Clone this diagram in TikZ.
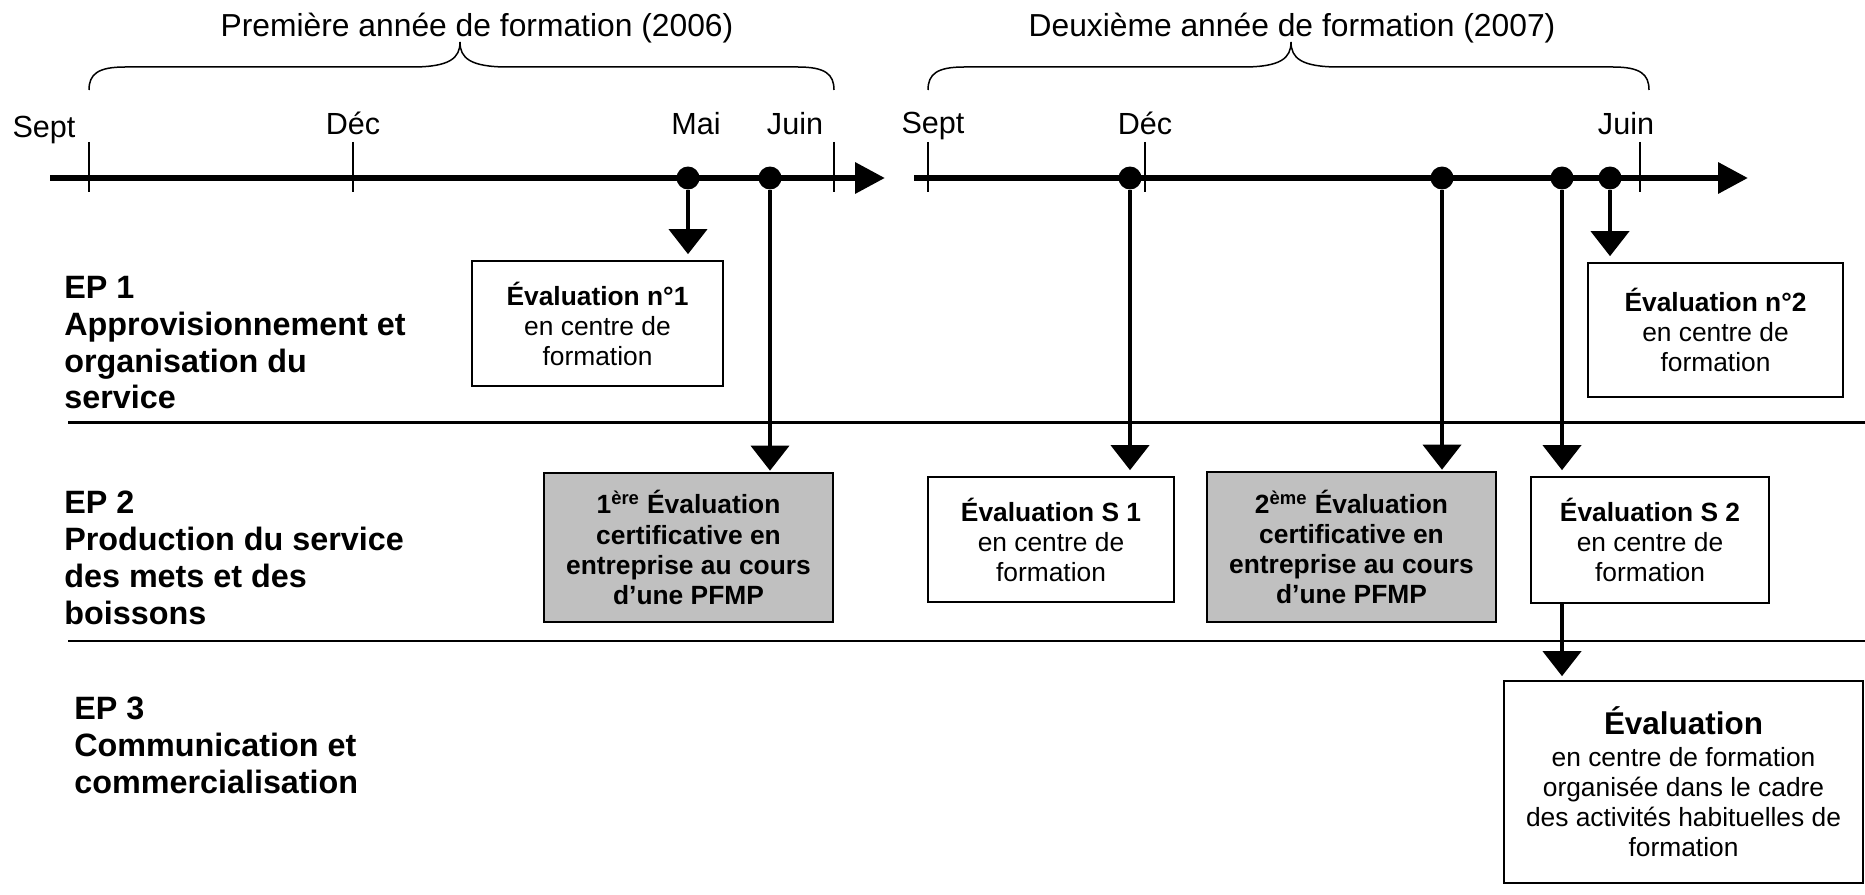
\documentclass[tikz,border=0pt]{standalone}
\usepackage{fontspec}
\setmainfont{Liberation Sans}
\usetikzlibrary{arrows.meta}
\definecolor{boxgray}{RGB}{192,192,192}

\begin{document}
\begin{tikzpicture}[x=0.02cm,y=0.02cm,
  every node/.style={inner sep=0pt},
  axis/.style={line width=0.13cm,-{Triangle[length=0.6cm,width=0.6cm]}},
  tick/.style={line width=0.03cm},
  event/.style={circle,fill=black,minimum size=0.46cm},
  link/.style={line width=0.08cm,-{Triangle[length=0.5cm,width=0.76cm]},shorten >=0.12cm},
  evbox/.style={draw,line width=0.034cm,align=center,font=\fontsize{15}{17.1}\selectfont},
  certbox/.style={evbox,fill=boxgray,font=\fontsize{15}{17.1}\selectfont\bfseries},
  eplabel/.style={anchor=north west,align=left,font=\fontsize{18.4}{20.9}\selectfont\bfseries},
  month/.style={anchor=base,font=\fontsize{17.4}{20}\selectfont},
  year/.style={anchor=base,font=\fontsize{18.1}{21}\selectfont},
  sep/.style={line width=0.046cm},
  brace/.style={line width=0.03cm}]
\useasboundingbox (0,0) rectangle (1865,-895);

% years and braces
\node[year] (an1) at (477,-37) {Première année de formation (2006)};
\node[year] (an2) at (1292,-37) {Deuxième année de formation (2007)};
\draw[brace] (89,-90) .. controls (89,-74) and (98,-67) .. (125,-67) -- (412,-67)
  .. controls (450,-67) and (460,-58) .. (460,-42)
  .. controls (460,-58) and (470,-67) .. (508,-67) -- (798,-67)
  .. controls (825,-67) and (834,-74) .. (834,-90);
\draw[brace] (928,-90) .. controls (928,-74) and (937,-67) .. (964,-67) -- (1243,-67)
  .. controls (1281,-67) and (1291,-58) .. (1291,-42)
  .. controls (1291,-58) and (1301,-67) .. (1339,-67) -- (1613,-67)
  .. controls (1640,-67) and (1649,-74) .. (1649,-90);

% months
\foreach \x/\y/\m in {44/138/Sept,353/135/Déc,696/135/Mai,795/135/Juin,933/134/Sept,1145/135/Déc,1626/135/Juin}
  \node[month] at (\x,-\y) {\m};
\foreach \x in {89,353,834,928,1145,1640}
  \draw[tick] (\x,-142) -- (\x,-192);

% time lines
\coordinate (t1s) at (50,-178);
\coordinate (t1e) at (885,-178);
\coordinate (t2s) at (914,-178);
\coordinate (t2e) at (1748,-178);
\draw[axis] (t1s) -- (t1e);
\draw[axis] (t2s) -- (t2e);

% separators
\draw[sep] (68,-422.5) -- (1865,-422.5);
\draw[sep] (68,-641) -- (1865,-641);

% epreuves
\node[eplabel] (ep1) at (64,-276) {EP 1\\Approvisionnement et\\organisation du\\service};
\node[eplabel] (ep2) at (64,-491) {EP 2\\Production du service\\des mets et des\\boissons};
\node[eplabel] (ep3) at (74,-697) {EP 3\\Communication et\\commercialisation};

% evaluations
\node[evbox,minimum width=5.02cm,minimum height=2.5cm] (eval1) at (597.5,-323.5)
  {{\bfseries Évaluation n°1}\\en centre de\\formation};
\node[certbox,minimum width=5.78cm,minimum height=2.98cm] (cert1) at (688.5,-547.5)
  {1\textsuperscript{ère} Évaluation\\certificative en\\entreprise au cours\\d’une PFMP};
\node[evbox,minimum width=4.92cm,minimum height=2.5cm] (evalS1) at (1051,-539.5)
  {{\bfseries Évaluation S 1}\\en centre de\\formation};
\node[certbox,minimum width=5.78cm,minimum height=3cm] (cert2) at (1351.5,-547)
  {2\textsuperscript{ème} Évaluation\\certificative en\\entreprise au cours\\d’une PFMP};
\node[evbox,minimum width=4.76cm,minimum height=2.52cm] (evalS2) at (1650,-540)
  {{\bfseries Évaluation S 2}\\en centre de\\formation};
\node[evbox,minimum width=5.1cm,minimum height=2.68cm] (eval2) at (1715.5,-330)
  {{\bfseries Évaluation n°2}\\en centre de\\formation};
\node[evbox,minimum width=7.18cm,minimum height=4.04cm] (evalEP3) at (1683.5,-782)
  {{\fontsize{17.9}{20}\selectfont\bfseries Évaluation}\\[1pt]en centre de formation\\organisée dans le cadre\\des activités habituelles de\\formation};

% events
\node[event] (ev1) at (688,-178) {};
\node[event] (ev2) at (770,-178) {};
\node[event] (ev3) at (1130,-178) {};
\node[event] (ev4) at (1442,-178) {};
\node[event] (ev5) at (1562,-178) {};
\node[event] (ev6) at (1610,-178) {};

\draw[link] (ev1) -- (ev1 |- eval1.north);
\draw[link,shorten >=0.03cm] (ev2) -- (ev2 |- cert1.north);
\draw[link] (ev3) -- (ev3 |- evalS1.north);
\draw[link,shorten >=0.03cm] (ev4) -- (ev4 |- cert2.north);
\draw[link] (ev5) -- (ev5 |- evalS2.north);
\draw[link] (ev6) -- (ev6 |- eval2.north);
\draw[link,shorten >=0.08cm] (evalS2.south -| ev5) -- (ev5 |- evalEP3.north);
\end{tikzpicture}
\end{document}
